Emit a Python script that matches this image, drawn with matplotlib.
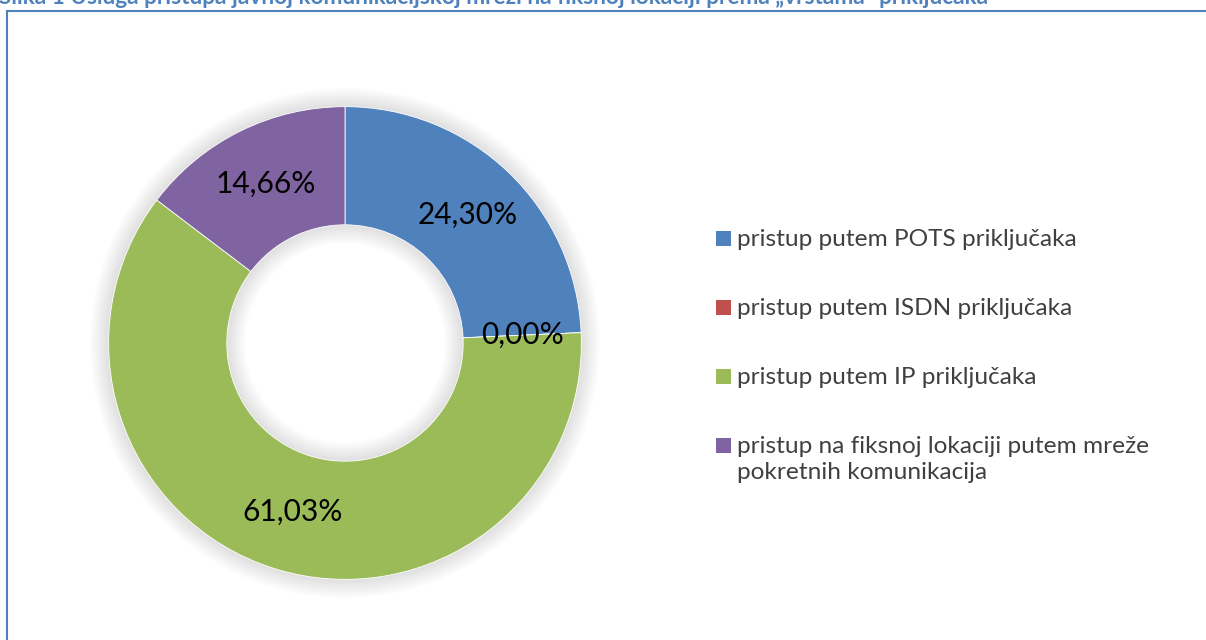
import numpy as np
import matplotlib
matplotlib.use('Agg')
from matplotlib import pyplot as plt
from matplotlib.patches import Wedge, Rectangle

categories = [
    'pristup putem POTS priključaka',
    'pristup putem ISDN priključaka',
    'pristup putem IP priključaka',
    'pristup na fiksnoj lokaciji putem mreže\npokretnih komunikacija',
]
shares = [24.30, 0.00, 61.03, 14.66]
colors = ['#4f81bd', '#c0504d', '#9bbb59', '#8064a2']
caption = 'Slika 1 Usluga pristupa javnoj komunikacijskoj mreži na fiksnoj lokaciji prema „vrstama" priključaka'

plt.rcParams['font.family'] = ['Lato', 'DejaVu Sans']

W, H = 1206, 640
fig = plt.figure(figsize=(W / 100, H / 100), dpi=100)

# frame around chart area (runs off right/bottom edge)
fig.patches.append(Rectangle((7 / W, -0.05), 1.1, (H - 11) / H + 0.05,
                             transform=fig.transFigure, fill=False,
                             edgecolor='#4f81bd', linewidth=1.5))

# caption, top half cut off by the image edge
fig.text(-0.001, 1 + 2 / H, caption, ha='left', va='center', fontsize=16.3,
         fontweight='bold', color='#4f81bd')

cx, cy, half = 345, 343, 260
ax = fig.add_axes([(cx - half) / W, (H - cy - half) / H, 2 * half / W, 2 * half / H])

# soft shadow around the ring
for d in np.linspace(0.004, 0.08, 16):
    ax.add_patch(Wedge((0, 0), 1 + d, 0, 360, width=0.5 + 2 * d,
                       facecolor='black', alpha=0.007, linewidth=0, zorder=0))

labels = [f'{v:.2f}%'.replace('.', ',') for v in shares]
wedges, texts = ax.pie(shares, radius=1, startangle=90, counterclock=False,
                       colors=colors, labels=labels, labeldistance=0.75,
                       wedgeprops=dict(width=0.5, edgecolor='white', linewidth=0.6),
                       textprops=dict(fontsize=21.5, color='black'))
for t in texts:
    t.set_ha('center')
    t.set_va('center')
ax.set_xlim(-1.1, 1.1)
ax.set_ylim(-1.1, 1.1)
ax.set_aspect('equal')
ax.axis('off')

# legend drawn by hand so the marker sits on the first line of a wrapped label
row_y = 238
for color, label in zip(colors, categories):
    fig.patches.append(Rectangle((716 / W, 1 - (row_y + 7.5) / H), 15 / W, 15 / H,
                                 transform=fig.transFigure, facecolor=color,
                                 edgecolor='none'))
    fig.text(737 / W, 1 - (row_y - 9) / H, label, ha='left', va='top',
             fontsize=17.6, color='#404040', linespacing=1.3)
    row_y += 69

fig.savefig('out.png', dpi=100)
